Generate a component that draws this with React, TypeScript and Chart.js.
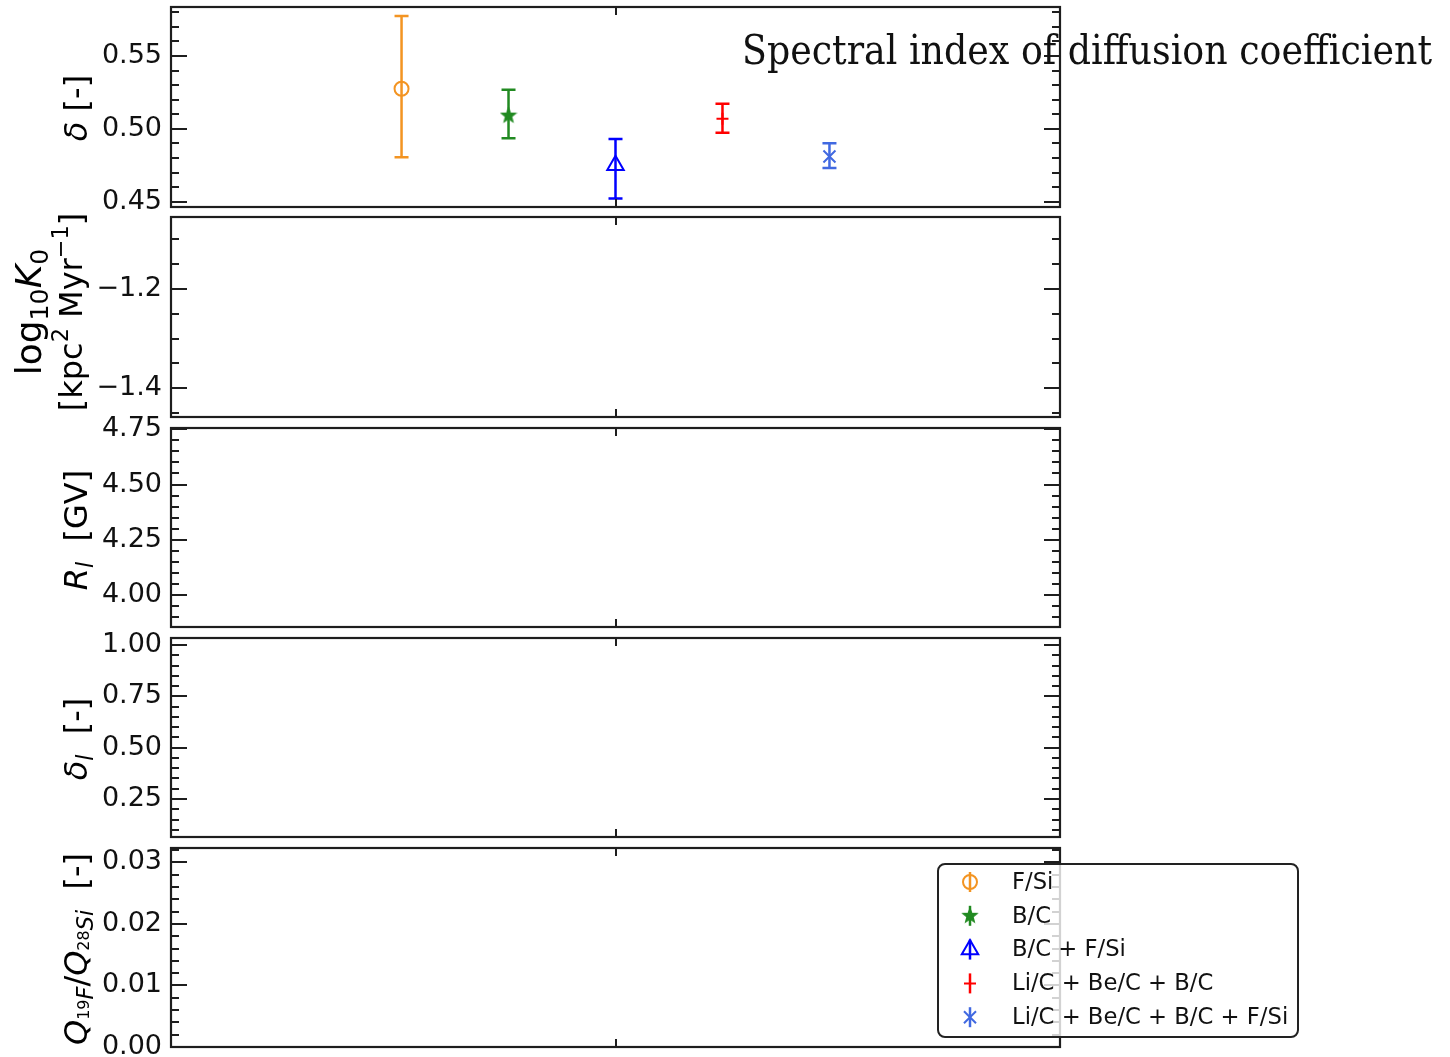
import React, { useEffect, useRef } from 'react';
import { Chart, registerables } from 'chart.js';
import { drawPoint } from 'chart.js/helpers';

Chart.register(...registerables);

const W = 1450;
const H = 1057;

// ---------------- data ----------------
const methodLabels = ['F/Si', 'B/C', 'B/C + F/Si', 'Li/C + Be/C + B/C', 'Li/C + Be/C + B/C + F/Si'];
const methodPositions = [1, 2, 3, 4, 5];
const deltaCentral = [0.5275, 0.5091, 0.4751, 0.5069, 0.481];
const deltaLower = [0.4805, 0.4935, 0.4523, 0.4973, 0.4732];
const deltaUpper = [0.5775, 0.5268, 0.4931, 0.5172, 0.4901];

const methodColors = ['#f39422', '#218a21', '#0000ff', '#ff0000', '#4169e1'];
const methodMarkers = ['circle', 'star', 'triangle', 'cross', 'crossRot'];
const markerRadius = [7, 7.5, 9.5, 6, 8.5];

const xAxisRange = [-1.155, 7.155];
const xTickValues = [3];

const deltaTicks = [0.45, 0.5, 0.55];
const deltaTickLabels = ['0.45', '0.50', '0.55'];
const logK0Ticks = [-1.4, -1.2];
const logK0TickLabels = ['\u22121.4', '\u22121.2'];
const rlTicks = [4.0, 4.25, 4.5, 4.75];
const rlTickLabels = ['4.00', '4.25', '4.50', '4.75'];
const deltaLTicks = [0.25, 0.5, 0.75, 1.0];
const deltaLTickLabels = ['0.25', '0.50', '0.75', '1.00'];
const qRatioTicks = [0, 0.01, 0.02, 0.03];
const qRatioTickLabels = ['0.00', '0.01', '0.02', '0.03'];

const titleText = 'Spectral index of diffusion coefficient';

// ---------------- layout / style ----------------
type Seg = { t: string; it?: boolean; s?: number; dy?: number };
type TitleLine = { segs: Seg[]; cx: number; cy: number; align: 'center' | 'right'; size?: number };

const SUB = { s: 0.7, dy: -0.2 };
const SUP = { s: 0.7, dy: 0.42 };

const PANELS = [
  {
    top: 7, bottom: 207, min: 0.4464, max: 0.5836, ticks: deltaTicks, labels: deltaTickLabels, minor: 0.01,
    withData: true,
    yTitle: [{ segs: [{ t: '\u03b4', it: true }, { t: ' [-]' }], cx: 75, cy: 108, align: 'center' }] as TitleLine[],
  },
  {
    top: 217, bottom: 417, min: -1.4578, max: -1.055, ticks: logK0Ticks, labels: logK0TickLabels, minor: 0.05,
    yTitle: [
      { segs: [{ t: 'log' }, { t: '10', ...SUB }, { t: 'K', it: true }, { t: '0', ...SUB }], cx: 28, cy: 312, align: 'center', size: 36 },
      { segs: [{ t: '[kpc' }, { t: '2', ...SUP }, { t: ' Myr' }, { t: '\u22121', ...SUP }, { t: ']' }], cx: 70, cy: 312, align: 'center' },
    ] as TitleLine[],
  },
  {
    top: 428, bottom: 627, min: 3.855, max: 4.756, ticks: rlTicks, labels: rlTickLabels, minor: 0.05,
    yTitle: [{ segs: [{ t: 'R', it: true }, { t: 'l', it: true, ...SUB }, { t: '  [GV]' }], cx: 75, cy: 530, align: 'center' }] as TitleLine[],
  },
  {
    top: 638, bottom: 837, min: 0.065, max: 1.034, ticks: deltaLTicks, labels: deltaLTickLabels, minor: 0.05,
    yTitle: [{ segs: [{ t: '\u03b4', it: true }, { t: 'l', it: true, ...SUB }, { t: '  [-]' }], cx: 75, cy: 739, align: 'center' }] as TitleLine[],
  },
  {
    top: 848, bottom: 1047, min: 0, max: 0.03233, ticks: qRatioTicks, labels: qRatioTickLabels, minor: 0.002,
    withLegend: true,
    yTitle: [{
      segs: [
        { t: 'Q', it: true }, { t: '19', s: 0.5, dy: -0.08 }, { t: 'F', it: true, ...SUB },
        { t: '/' },
        { t: 'Q', it: true }, { t: '28', s: 0.5, dy: -0.08 }, { t: 'Si', it: true, ...SUB },
        { t: '  [-]' },
      ], cx: 75, cy: 949, align: 'center',
    }] as TitleLine[],
  },
];

const PLOT_LEFT = 171;
const PLOT_RIGHT = 1060;
const FRAME_COLOR = '#1e1e1e';
const TICK_FONT = '"DejaVu Sans", sans-serif';
const LABEL_SIZE = 32;

function drawRich(ctx: CanvasRenderingContext2D, line: TitleLine, baseSize: number) {
  const size = line.size ?? baseSize;
  ctx.save();
  ctx.translate(line.cx, line.cy);
  ctx.rotate(-Math.PI / 2);
  const fontOf = (seg: Seg) => `${seg.it ? 'italic ' : ''}${size * (seg.s ?? 1)}px ${TICK_FONT}`;
  let total = 0;
  const widths = line.segs.map((seg) => {
    ctx.font = fontOf(seg);
    const w = ctx.measureText(seg.t).width;
    total += w;
    return w;
  });
  let x = line.align === 'center' ? -total / 2 : -total;
  const base = size * 0.36;
  ctx.textAlign = 'left';
  ctx.textBaseline = 'alphabetic';
  ctx.fillStyle = '#000';
  line.segs.forEach((seg, i) => {
    ctx.font = fontOf(seg);
    ctx.fillText(seg.t, x, base - (seg.dy ?? 0) * size);
    x += widths[i];
  });
  ctx.restore();
}

function makeStar(color: string) {
  const c = document.createElement('canvas');
  c.width = 18;
  c.height = 18;
  const g = c.getContext('2d')!;
  g.beginPath();
  for (let i = 0; i < 10; i++) {
    const r = i % 2 === 0 ? 7.5 : 3.2;
    const a = -Math.PI / 2 + (i * Math.PI) / 5;
    const px = 9 + r * Math.cos(a);
    const py = 9 + r * Math.sin(a);
    if (i === 0) g.moveTo(px, py);
    else g.lineTo(px, py);
  }
  g.closePath();
  g.fillStyle = color;
  g.fill();
  g.strokeStyle = color;
  g.lineWidth = 1.2;
  g.stroke();
  return c;
}

function markerStyle(i: number, star: HTMLCanvasElement) {
  return methodMarkers[i] === 'star' ? star : methodMarkers[i];
}

const errorBarPlugin = {
  id: 'errorBars',
  beforeDatasetsDraw(chart: any) {
    const { ctx } = chart;
    const x = chart.scales.x;
    const y = chart.scales.y;
    chart.data.datasets.forEach((ds: any) => {
      if (!ds.errLow) return;
      ds.data.forEach((p: any, j: number) => {
        const px = x.getPixelForValue(p.x);
        const lo = y.getPixelForValue(ds.errLow[j]);
        const hi = y.getPixelForValue(ds.errHigh[j]);
        ctx.save();
        ctx.strokeStyle = ds.borderColor;
        ctx.lineWidth = 2.5;
        ctx.beginPath();
        ctx.moveTo(px, lo);
        ctx.lineTo(px, hi);
        ctx.moveTo(px - 7, lo);
        ctx.lineTo(px + 7, lo);
        ctx.moveTo(px - 7, hi);
        ctx.lineTo(px + 7, hi);
        ctx.stroke();
        ctx.restore();
      });
    });
  },
};

function framePlugin(panel: any) {
  return {
    id: 'frameTicks',
    afterDraw(chart: any) {
      const { ctx, chartArea: a } = chart;
      const y = chart.scales.y;
      const x = chart.scales.x;
      ctx.save();
      ctx.strokeStyle = FRAME_COLOR;
      ctx.lineWidth = 2;
      ctx.beginPath();
      const kMin = Math.ceil(panel.min / panel.minor - 1e-6);
      const kMax = Math.floor(panel.max / panel.minor + 1e-6);
      for (let k = kMin; k <= kMax; k++) {
        const v = k * panel.minor;
        if (panel.ticks.some((t: number) => Math.abs(t - v) < 1e-9)) continue;
        const py = Math.round(y.getPixelForValue(v));
        ctx.moveTo(a.left, py);
        ctx.lineTo(a.left + 8, py);
        ctx.moveTo(a.right, py);
        ctx.lineTo(a.right - 8, py);
      }
      panel.ticks.forEach((v: number) => {
        const py = Math.round(y.getPixelForValue(v));
        ctx.moveTo(a.left, py);
        ctx.lineTo(a.left + 16, py);
        ctx.moveTo(a.right, py);
        ctx.lineTo(a.right - 16, py);
      });
      xTickValues.forEach((v) => {
        const px = Math.round(x.getPixelForValue(v));
        ctx.moveTo(px, a.top);
        ctx.lineTo(px, a.top + 8);
        ctx.moveTo(px, a.bottom);
        ctx.lineTo(px, a.bottom - 8);
      });
      ctx.stroke();
      ctx.lineWidth = 2.2;
      ctx.strokeRect(a.left, a.top, a.right - a.left, a.bottom - a.top);
      ctx.restore();
      panel.yTitle.forEach((line: TitleLine) => drawRich(ctx, line, LABEL_SIZE));
    },
  };
}

const titlePlugin = {
  id: 'overlayTitle',
  afterDraw(chart: any) {
    const { ctx } = chart;
    ctx.save();
    const size = 41;
    ctx.font = `${size}px "DejaVu Serif", serif`;
    const w = ctx.measureText(titleText).width;
    const sx = 690 / w;
    ctx.fillStyle = '#111';
    ctx.textAlign = 'left';
    ctx.textBaseline = 'alphabetic';
    ctx.translate(742, 64);
    ctx.scale(sx, 1);
    ctx.fillText(titleText, 0, 0);
    ctx.restore();
  },
};

function legendPlugin(star: HTMLCanvasElement) {
  return {
    id: 'customLegend',
    afterDraw(chart: any) {
      const { ctx } = chart;
      const bx = 938, by = 864, bw = 360, bh = 173, r = 7;
      ctx.save();
      ctx.beginPath();
      ctx.moveTo(bx + r, by);
      ctx.arcTo(bx + bw, by, bx + bw, by + bh, r);
      ctx.arcTo(bx + bw, by + bh, bx, by + bh, r);
      ctx.arcTo(bx, by + bh, bx, by, r);
      ctx.arcTo(bx, by, bx + bw, by, r);
      ctx.closePath();
      ctx.fillStyle = 'rgba(255,255,255,0.8)';
      ctx.fill();
      ctx.strokeStyle = '#222';
      ctx.lineWidth = 2;
      ctx.stroke();
      methodLabels.forEach((label, i) => {
        const cy = 882 + i * 33.8;
        const mx = 970;
        ctx.strokeStyle = methodColors[i];
        ctx.lineWidth = 2.5;
        ctx.beginPath();
        ctx.moveTo(mx, cy - 10);
        ctx.lineTo(mx, cy + 10);
        ctx.stroke();
        ctx.fillStyle = 'rgba(0,0,0,0)';
        ctx.lineWidth = 2;
        drawPoint(ctx, { pointStyle: markerStyle(i, star) as any, rotation: 0, radius: markerRadius[i], borderWidth: 2 }, mx, cy);
        ctx.fillStyle = '#111';
        ctx.font = `22.7px ${TICK_FONT}`;
        ctx.textAlign = 'left';
        ctx.textBaseline = 'middle';
        ctx.fillText(label, 1012, cy + 1);
      });
      ctx.restore();
    },
  };
}

function PanelChart({ index }: { index: number }) {
  const ref = useRef<HTMLCanvasElement>(null);
  useEffect(() => {
    const panel: any = PANELS[index];
    const star = makeStar(methodColors[1]);
    const datasets = panel.withData
      ? methodLabels.map((label, i) => ({
          label,
          data: [{ x: methodPositions[i], y: deltaCentral[i] }],
          errLow: [deltaLower[i]],
          errHigh: [deltaUpper[i]],
          borderColor: methodColors[i],
          backgroundColor: 'rgba(0,0,0,0)',
          pointStyle: markerStyle(i, star),
          pointRadius: markerRadius[i],
          pointBorderWidth: 2,
          pointBackgroundColor: 'rgba(0,0,0,0)',
          pointBorderColor: methodColors[i],
          showLine: false,
          clip: false,
        }))
      : [];
    const plugins: any[] = [framePlugin(panel)];
    if (panel.withData) plugins.push(errorBarPlugin, titlePlugin);
    if (panel.withLegend) plugins.push(legendPlugin(star));
    const chart = new Chart(ref.current!, {
      type: 'scatter',
      data: { datasets: datasets as any },
      options: {
        responsive: false,
        animation: false,
        devicePixelRatio: 1,
        events: [],
        layout: { autoPadding: false, padding: { top: panel.top, bottom: H - panel.bottom, left: 0, right: W - PLOT_RIGHT } },
        plugins: { legend: { display: false }, tooltip: { enabled: false } },
        scales: {
          x: { type: 'linear', min: xAxisRange[0], max: xAxisRange[1], display: false },
          y: {
            type: 'linear',
            min: panel.min,
            max: panel.max,
            afterBuildTicks: (s: any) => {
              s.ticks = panel.ticks.map((v: number) => ({ value: v }));
            },
            afterFit: (s: any) => {
              s.width = PLOT_LEFT;
              s.paddingTop = 0;
              s.paddingBottom = 0;
            },
            grid: { display: false, drawTicks: false },
            border: { display: false },
            ticks: {
              padding: 9,
              color: '#111',
              autoSkip: false,
              font: { family: TICK_FONT, size: 27 },
              callback: (v: any) => {
                const k = panel.ticks.findIndex((t: number) => Math.abs(t - Number(v)) < 1e-9);
                return k >= 0 ? panel.labels[k] : '';
              },
            },
          },
        },
      },
      plugins,
    } as any);
    return () => chart.destroy();
  }, [index]);
  return (
    <canvas
      ref={ref}
      width={W}
      height={H}
      style={{ position: 'absolute', left: 0, top: 0, width: W, height: H }}
    />
  );
}

export default function App() {
  return (
    <div style={{ position: 'absolute', left: 0, top: 0, width: W, height: H, background: '#fff', overflow: 'hidden' }}>
      {PANELS.map((_, i) => (
        <PanelChart key={i} index={i} />
      ))}
    </div>
  );
}
